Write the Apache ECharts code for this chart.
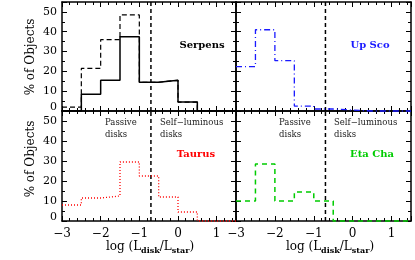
<!DOCTYPE html>
<html>
<head>
<meta charset="utf-8">
<script src="https://cdn.jsdelivr.net/npm/echarts@6/dist/echarts.min.js"></script>
<style>
html,body{margin:0;padding:0;background:#fff;}
#chart{width:415px;height:260px;}
</style>
</head>
<body>
<div id="chart"></div>
<script>
// ---- data ----
const binEdges = [-3, -2.5, -2, -1.5, -1, -0.5, 0, 0.5, 1, 1.5];
const serpensSolid  = [0, 8.4, 15.5, 37.5, 14.5, 15.5, 4.5, 0, 0];
const serpensDashed = [2, 21.5, 36, 48.5, 14.5, 15.5, 4.5, 0, 0];
const upSco  = [22.4, 41, 25.4, 2.5, 1, 0.5, 0, 0, 0];
const taurus = [8, 11.5, 12.5, 29.5, 22.5, 12, 4.5, 0, 0];
const etaCha = [10, 28.5, 10, 14.5, 10, 0, 0, 0, 0];
const dividerX = -0.7;
const xTicks = [-3, -2, -1, 0, 1];
const yTicks = [0, 10, 20, 30, 40, 50];
const xMin = -3, xMax = 1.5, yMin = 0, yMax = 55;
const panelNames = ['Serpens', 'Up Sco', 'Taurus', 'Eta Cha'];
const yTitle = '% of Objects';
const regionLabels = ['Passive\ndisks', 'Self\u2212luminous\ndisks'];

// ---- helpers ----
function stepPoints(edges, vals) {
  const pts = [];
  for (let i = 0; i < vals.length; i++) {
    pts.push([edges[i], vals[i]]);
    pts.push([edges[i + 1], vals[i]]);
  }
  return pts;
}
const SERIF = 'DejaVu Serif';
const grids = [
  {left: 62, top: 2, width: 174, height: 109},
  {left: 236, top: 2, width: 175, height: 109},
  {left: 62, top: 111, width: 174, height: 110},
  {left: 236, top: 111, width: 175, height: 110}
];
const axisLine = {show: true, onZero: false, lineStyle: {color: '#000', width: 1.5}};
const tick = {show: true, inside: true, length: 5, lineStyle: {color: '#000', width: 1}};
const xAxes = [], yAxes = [];
for (let pos of ['bottom', 'top']) {
  for (let g = 0; g < 4; g++) {
    const showLab = pos === 'bottom' && g >= 2;
    xAxes.push({
      type: 'value', gridIndex: g, position: pos, min: xMin, max: xMax, interval: 1,
      axisLine: axisLine, axisTick: tick,
      minorTick: {show: true, splitNumber: 5, length: 3, lineStyle: {color: '#000', width: 1}},
      splitLine: {show: false}, minorSplitLine: {show: false},
      axisLabel: {show: showLab, showMaxLabel: false, margin: 7, color: '#000',
        fontFamily: SERIF, fontSize: 12,
        formatter: v => xTicks.includes(v) ? String(v).replace('-', '\u2212') : ''}
    });
  }
}
for (let pos of ['left', 'right']) {
  for (let g = 0; g < 4; g++) {
    const showLab = pos === 'left' && (g === 0 || g === 2);
    yAxes.push({
      type: 'value', gridIndex: g, position: pos, min: yMin, max: yMax, interval: 10,
      axisLine: axisLine, axisTick: tick,
      minorTick: {show: true, splitNumber: 2, length: 3, lineStyle: {color: '#000', width: 1}},
      splitLine: {show: false}, minorSplitLine: {show: false},
      axisLabel: {show: showLab, showMaxLabel: false, margin: 5, color: '#000',
        fontFamily: SERIF, fontSize: 11,
        formatter: v => yTicks.includes(v) ? (v === 0 ? '{z|0}' : String(v)) : '',
        rich: {z: {fontFamily: SERIF, fontSize: 11, color: '#000', padding: [0, 0, 8, 0]}}}
    });
  }
}
function histSeries(g, vals, color, type, width) {
  return {
    type: 'line', xAxisIndex: g, yAxisIndex: g, data: stepPoints(binEdges, vals),
    symbol: 'none', clip: false, silent: true,
    lineStyle: {color: color, width: width, type: type}
  };
}
const series = [];
for (let g = 0; g < 4; g++) {
  series.push({
    type: 'line', xAxisIndex: g, yAxisIndex: g, data: [[dividerX, yMin], [dividerX, yMax]],
    symbol: 'none', silent: true, lineStyle: {color: '#000', width: 1.5, type: [4, 3]}
  });
}
series.push(histSeries(0, serpensDashed, '#000', [5, 3], 1.2));
series.push(histSeries(0, serpensSolid, '#000', 'solid', 1.5));
series.push(histSeries(1, upSco, '#1a1aff', [6, 3, 1, 3], 1.3));
series.push(histSeries(2, taurus, '#ff0000', [1, 2], 1.3));
series.push(histSeries(3, etaCha, '#00cc00', [5, 4], 1.5));

const labelColors = ['#000', '#1a1aff', '#ff0000', '#00cc00'];
const labelPos = [[202, 45], [370, 45], [196, 154], [372, 154]];
const graphic = [];
for (let i = 0; i < 4; i++) {
  graphic.push({type: 'text', x: labelPos[i][0], y: labelPos[i][1], silent: true,
    style: {text: panelNames[i], fill: labelColors[i], font: 'bold 10px "DejaVu Serif"',
      textAlign: 'center', textVerticalAlign: 'middle'}});
}
const regionPos = [[105, 160], [279, 334]];
for (let p = 0; p < 2; p++) {
  for (let r = 0; r < 2; r++) {
    graphic.push({type: 'text', x: regionPos[p][r], y: 117, silent: true,
      style: {text: regionLabels[r], fill: '#222', font: '8.5px "DejaVu Serif"',
        lineHeight: 12, textAlign: 'left', textVerticalAlign: 'top'}});
  }
}
for (let yc of [57, 159]) {
  graphic.push({type: 'text', x: 31, y: yc, rotation: Math.PI / 2, silent: true,
    style: {text: yTitle, fill: '#000', font: '12px "DejaVu Serif"',
      textAlign: 'center', textVerticalAlign: 'middle'}});
}
for (let xc of [150, 330]) {
  graphic.push({type: 'text', x: xc, y: 247, silent: true,
    style: {text: 'log (L{s|disk}/L{s|star})', fill: '#000', font: '12px "DejaVu Serif"',
      textAlign: 'center', textVerticalAlign: 'middle',
      rich: {s: {fontFamily: SERIF, fontSize: 8, fontWeight: 'bold', fill: '#000', padding: [8, 0, 0, 0]}}}});
}

const chart = echarts.init(document.getElementById('chart'), null, {renderer: 'canvas'});
chart.setOption({
  animation: false,
  backgroundColor: '#fff',
  grid: grids,
  xAxis: xAxes,
  yAxis: yAxes,
  series: series,
  graphic: graphic
});
</script>
</body>
</html>
